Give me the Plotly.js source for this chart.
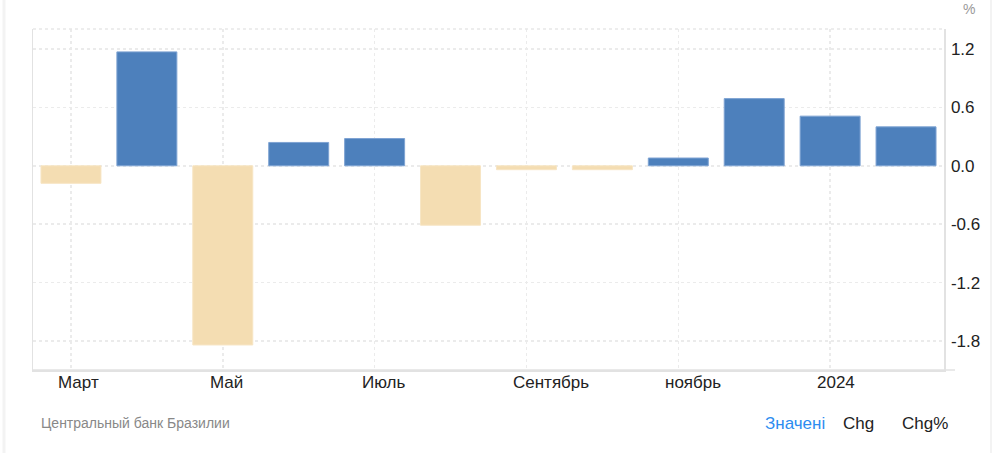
<!DOCTYPE html>
<html>
<head>
<meta charset="utf-8">
<script src="https://cdn.plot.ly/plotly-3.0.1.min.js"></script>
<style>
html,body{margin:0;padding:0;background:#fff;}
#chart{width:1000px;height:453px;}
</style>
</head>
<body>
<div id="chart"></div>
<script>
// Data
var months = ["2023-03","2023-04","2023-05","2023-06","2023-07","2023-08","2023-09","2023-10","2023-11","2023-12","2024-01","2024-02"];
var values = [-0.18, 1.17, -1.84, 0.24, 0.28, -0.61, -0.04, -0.04, 0.08, 0.69, 0.51, 0.40];
var xTickCats = ["2023-03","2023-05","2023-07","2023-09","2023-11","2024-01"];
var xTickLabels = ["Март","Май","Июль","Сентябрь","ноябрь","2024"];
var yTickVals = [-1.8, -1.2, -0.6, 0, 0.6, 1.2];
var yTickText = ["-1.8","-1.2","-0.6","0.0","0.6","1.2"];
var sourceText = "Центральный банк Бразилии";
var unitText = "%";
var buttons = ["Значені","Chg","Chg%"];

var W = 1000, H = 453;
var L = 33, R = 56, T = 29, B = 83;
var plotW = W - L - R, plotH = H - T - B;
function px2paperX(px){ return (px - L) / plotW; }
function px2paperY(py){ return (H - B - py) / plotH; }

var colors = values.map(function(v){ return v >= 0 ? "#4d80bc" : "#f4ddb2"; });
var lineColors = values.map(function(v){ return v >= 0 ? "#7ea3d3" : "#f7e5c4"; });

var trace = {
  type: "bar",
  x: months,
  y: values,
  marker: {color: colors, line: {color: lineColors, width: 1}},
  hoverinfo: "x+y"
};

var annotations = [];
xTickCats.forEach(function(c, i){
  annotations.push({
    x: c, xref: "x", y: 0, yref: "paper",
    yanchor: "top", xanchor: "left", xshift: -15, yshift: -1,
    text: xTickLabels[i], showarrow: false,
    font: {family: "Liberation Sans, Arial, sans-serif", size: 17, color: "#222"}
  });
});
annotations.push({
  x: px2paperX(39), xref: "paper", y: px2paperY(423), yref: "paper",
  xanchor: "left", yanchor: "middle", text: sourceText, showarrow: false,
  font: {family: "Liberation Sans, Arial, sans-serif", size: 14, color: "#888"}
});
annotations.push({
  x: px2paperX(969), xref: "paper", y: px2paperY(9), yref: "paper",
  xanchor: "center", yanchor: "middle", text: unitText, showarrow: false,
  font: {family: "Liberation Sans, Arial, sans-serif", size: 14, color: "#999"}
});
var btnX = [763, 841, 900];
var btnColors = ["#2d8cf0", "#222", "#222"];
buttons.forEach(function(b, i){
  annotations.push({
    x: px2paperX(btnX[i]), xref: "paper", y: px2paperY(423), yref: "paper",
    xanchor: "left", yanchor: "middle", text: b, showarrow: false,
    font: {family: "Liberation Sans, Arial, sans-serif", size: 17, color: btnColors[i]}
  });
});

var shapes = [
  {type: "line", xref: "paper", yref: "paper", x0: 0, x1: 1, y0: 1, y1: 1,
   line: {color: "#e8e8e8", width: 1.5, dash: "dot"}},
  {type: "line", xref: "paper", yref: "paper", x0: 0, x1: px2paperX(955), y0: 0, y1: 0,
   line: {color: "#e2e2e2", width: 1.5}},
  {type: "line", xref: "paper", yref: "paper", x0: px2paperX(4), x1: px2paperX(4), y0: px2paperY(0), y1: px2paperY(453),
   line: {color: "#f3f3f3", width: 3}},
  {type: "line", xref: "paper", yref: "paper", x0: px2paperX(991), x1: px2paperX(991), y0: px2paperY(0), y1: px2paperY(453),
   line: {color: "#f3f3f3", width: 2}}
];

var layout = {
  width: W, height: H,
  margin: {l: L, r: R, t: T, b: B, pad: 0},
  paper_bgcolor: "#fff", plot_bgcolor: "#fff",
  showlegend: false,
  bargap: 0.21,
  font: {family: "Liberation Sans, Arial, sans-serif", size: 17, color: "#222"},
  xaxis: {
    type: "category",
    categoryorder: "array", categoryarray: months,
    range: [-0.5, 11.5],
    tickmode: "array", tickvals: xTickCats, ticktext: xTickLabels,
    showticklabels: false, ticks: "",
    showgrid: true, gridcolor: "#ebebeb", griddash: "dot", gridwidth: 1.5,
    showline: true, linecolor: "#e2e2e2", linewidth: 1.5,
    zeroline: false, fixedrange: true
  },
  yaxis: {
    side: "right",
    range: [-2.097, 1.405],
    tickmode: "array", tickvals: yTickVals, ticktext: yTickText,
    ticks: "", ticklabelstandoff: 2,
    tickfont: {size: 17, color: "#222"},
    showgrid: true, gridcolor: "#ebebeb", griddash: "dot", gridwidth: 1.5,
    showline: true, mirror: true, linecolor: "#e2e2e2", linewidth: 1.5,
    zeroline: false, fixedrange: true
  },
  annotations: annotations,
  shapes: shapes
};

Plotly.newPlot("chart", [trace], layout, {displayModeBar: false, staticPlot: true});
</script>
</body>
</html>
